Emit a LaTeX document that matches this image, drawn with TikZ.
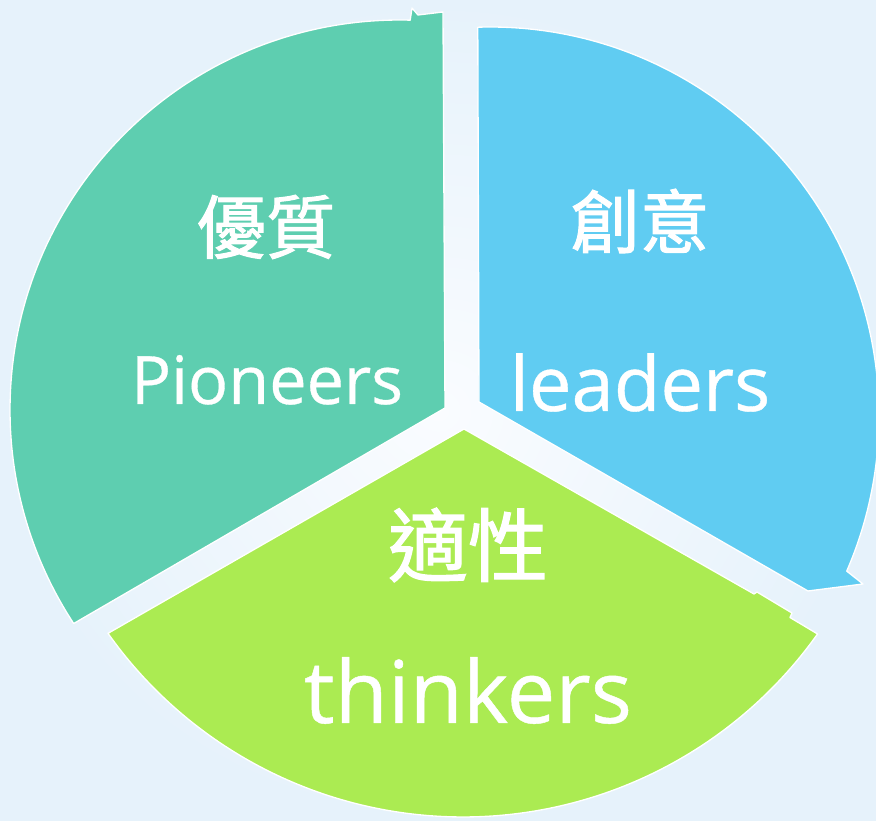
\documentclass[tikz,border=0pt]{standalone}
\usepackage{fontspec}
\setmainfont{Open Sans}[FakeBold=0.5]
\newfontfamily\cjk{Noto Sans CJK TC}[FakeBold=1.5]
\definecolor{pgreen}{RGB}{94,206,176}
\definecolor{pblue}{RGB}{96,204,242}
\definecolor{plime}{RGB}{171,235,82}
\definecolor{bgin}{RGB}{250,252,255}
\definecolor{bgout}{RGB}{230,242,251}
\begin{document}
\begin{tikzpicture}[x=0.75pt,y=0.75pt,
  seg/.style={draw=white,line width=1pt,line join=round},
  cjklbl/.style={text=white,inner sep=0pt,font=\cjk\fontsize{#1}{#1}\selectfont},
  latlbl/.style={text=white,inner sep=0pt,anchor=base,font=\fontsize{#1}{#1}\selectfont}]
\useasboundingbox (0,0) rectangle (876,821);
\shade[inner color=bgin,outer color=bgout] (0,0) rectangle (876,821);
% green sector (upper left)
\fill[seg,fill=pgreen] (445,413) -- (443,809) -- (418,806) -- (412,813)
  -- ([shift={(400,411)}]88.5:390) arc[start angle=88.5,end angle=213.2,radius=292.5pt] -- cycle;
% blue sector (right)
\fill[seg,fill=pblue] (479,419) -- ([shift={(490,405)}]91.8:389)
  arc[start angle=91.8,end angle=-23.5,radius=291.75pt] -- (863,237) -- (808,230) -- cycle;
% lime sector (bottom)
\fill[seg,fill=plime] (464,392) -- (754,227) -- (757,229) -- (792,208) -- (790,203.5)
  -- ([shift={(463,439)}]-35.4:435) arc[start angle=-35.4,end angle=-144.7,radius=326.25pt] -- cycle;
% labels
\node[cjklbl=52] (q1) at (266,594) {優質};
\node[latlbl=50] (e1) at (267,417) {Pioneers};
\node[cjklbl=52] (q2) at (640,600) {創意};
\node[latlbl=57] (e2) at (640,410) {leaders};
\node[cjklbl=60] (q3) at (468,276) {適性};
\node[latlbl=65] (e3) at (468,98) {thinkers};
\end{tikzpicture}
\end{document}
